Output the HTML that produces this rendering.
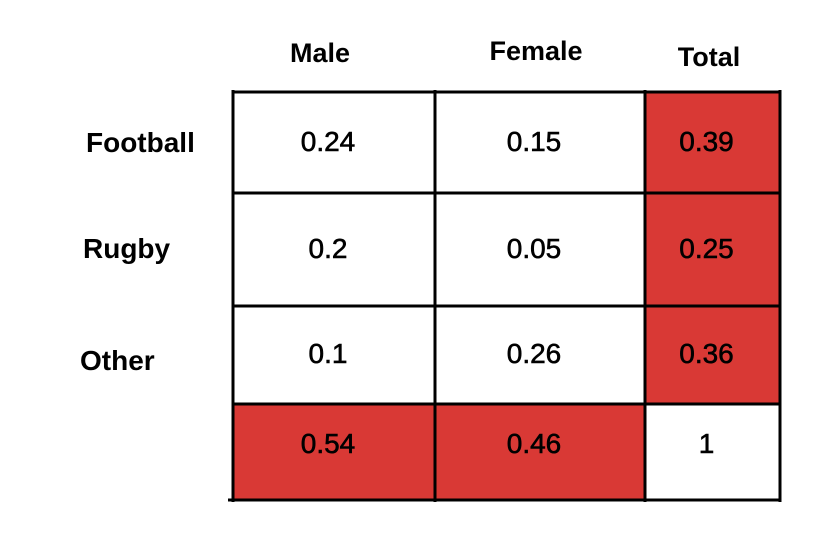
<!DOCTYPE html>
<html><head><meta charset="utf-8"><style>
html,body{margin:0;padding:0;background:#fff;width:830px;height:548px;overflow:hidden}
text{font-family:"Liberation Sans","DejaVu Sans",sans-serif;fill:#000}
</style></head><body>
<svg id="chart" width="830" height="548" viewBox="0 0 830 548" xmlns="http://www.w3.org/2000/svg"></svg>
<script>
const colLabels = ["Male","Female","Total"];
const rowLabels = ["Football","Rugby","Other",""];
const cellValues = [
  ["0.24","0.15","0.39"],
  ["0.2","0.05","0.25"],
  ["0.1","0.26","0.36"],
  ["0.54","0.46","1"]
];
const highlighted = [
  [false,false,true],
  [false,false,true],
  [false,false,true],
  [true,true,false]
];
const NS="http://www.w3.org/2000/svg";
const svg=document.getElementById('chart');
const xs=[233,435,645,780];
const ys=[92,193,306,404,500];
const colLabelX=[320,536,709];
const colLabelY=[62,60,66];
const rowLabelX=[86,83,80];
const rowLabelY=[152,258,370];
const rowTextY=[151,258,363,453];
function mk(tag,attrs){const e=document.createElementNS(NS,tag);for(const k in attrs)e.setAttribute(k,attrs[k]);svg.appendChild(e);return e;}
for(let r=0;r<cellValues.length;r++){
  for(let c=0;c<cellValues[r].length;c++){
    const rect=mk('rect',{x:xs[c],y:ys[r],width:xs[c+1]-xs[c],height:ys[r+1]-ys[r],fill:highlighted[r][c]?'#d93935':'#ffffff'});
    
    
    const t=mk('text',{x:(xs[c]+xs[c+1])/2-6,y:rowTextY[r],'text-anchor':'middle','font-size':'28','stroke':'#000','stroke-width':'0.6'});
    t.textContent=cellValues[r][c];
    
    
  }
}
for(let i=0;i<xs.length;i++){
  const l=mk('line',{x1:xs[i],y1:ys[0]-2,x2:xs[i],y2:ys[ys.length-1]+2,stroke:'#000','stroke-width':'3'});
  
  
}
for(let i=0;i<ys.length;i++){
  const l=mk('line',{x1:i===ys.length-1?228:xs[0],y1:ys[i],x2:xs[xs.length-1],y2:ys[i],stroke:'#000','stroke-width':'3'});
  
  
}
for(let c=0;c<colLabels.length;c++){
  const t=mk('text',{x:colLabelX[c],y:colLabelY[c],'text-anchor':'middle','font-size':'27','font-weight':'bold'});
  t.textContent=colLabels[c];
  
  
}
for(let r=0;r<3;r++){
  const t=mk('text',{x:rowLabelX[r],y:rowLabelY[r],'font-size':'28','font-weight':'bold'});
  t.textContent=rowLabels[r];
  
  
}
</script>
</body></html>
